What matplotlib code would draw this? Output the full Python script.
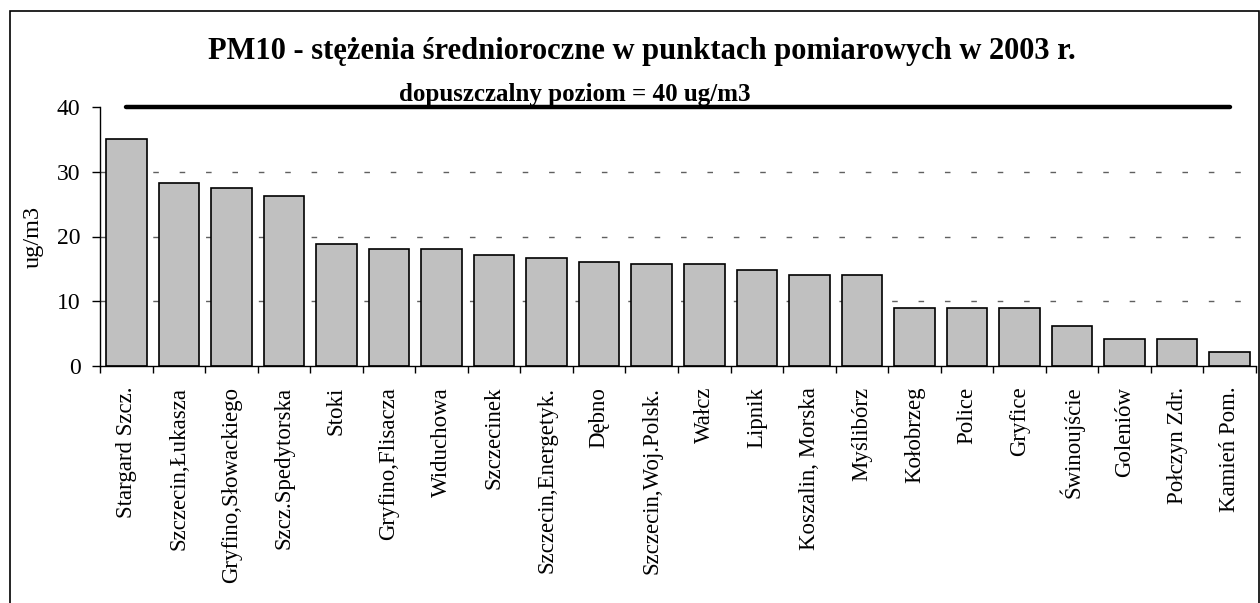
import numpy as np
import matplotlib
matplotlib.use("Agg")
import matplotlib.pyplot as plt
from matplotlib.patches import Rectangle

stations = ["Stargard Szcz.", "Szczecin,Łukasza", "Gryfino,Słowackiego", "Szcz.Spedytorska",
            "Stoki", "Gryfino,Flisacza", "Widuchowa", "Szczecinek", "Szczecin,Energetyk.",
            "Dębno", "Szczecin,Woj.Polsk.", "Wałcz", "Lipnik", "Koszalin, Morska",
            "Myślibórz", "Kołobrzeg", "Police", "Gryfice", "Świnoujście", "Goleniów",
            "Połczyn Zdr.", "Kamień Pom."]
pm10 = [35.0, 28.2, 27.5, 26.3, 18.9, 18.0, 18.0, 17.1, 16.7, 16.1, 15.8,
        15.8, 14.9, 14.0, 14.0, 9.0, 9.0, 9.0, 6.2, 4.1, 4.1, 2.2]
limit = 40
y_ticks = [0, 10, 20, 30, 40]

plt.rcParams['font.family'] = ['Liberation Serif', 'DejaVu Serif']

fig = plt.figure(figsize=(12.6, 6.03), dpi=100)
ax = fig.add_axes([100/1260, 1 - 366/603, 1156/1260, 259/603])

x = np.arange(len(stations))
ax.bar(x, pm10, width=0.77, color='#C0C0C0', edgecolor='black', linewidth=1.2, zorder=3)

# dopuszczalny poziom
ax.plot([x[0], x[-1]], [limit, limit], color='black', linewidth=3.2,
        solid_capstyle='round', clip_on=False, zorder=4)

ax.set_xlim(-0.5, len(stations) - 0.5)
ax.set_ylim(0, 40)
ax.set_yticks(y_ticks)
ax.tick_params(axis='y', labelsize=17, length=6, width=1, direction='out', pad=8)

ax.set_xticks(x)
ax.set_xticklabels(stations, rotation=90, fontsize=16.5)
ax.set_xticks(np.arange(len(stations) + 1) - 0.5, minor=True)
ax.tick_params(axis='x', which='major', length=0, pad=15)
ax.tick_params(axis='x', which='minor', length=5, width=1, direction='out')

for g in y_ticks[1:-1]:
    ax.axhline(g, color='#606060', linewidth=1, linestyle=(0, (4, 15)), zorder=1)

for s in ['top', 'right']:
    ax.spines[s].set_visible(False)
for s in ['left', 'bottom']:
    ax.spines[s].set_linewidth(1)
    ax.spines[s].set_zorder(5)

ax.set_ylabel("ug/m3", fontsize=17.5)
ax.yaxis.set_label_coords(-56/1156, 0.5)

fig.text(642/1260, 1 - 59/603, "PM10 - stężenia średnioroczne w punktach pomiarowych w 2003 r.",
         ha='center', va='baseline', fontsize=22, fontweight='bold')
ax.text(475/1156, 1 + 6/259, "dopuszczalny poziom = 40 ug/m3", transform=ax.transAxes,
        ha='center', va='baseline', fontsize=18, fontweight='bold')

fig.patches.append(Rectangle((10/1260, -0.05), 1249/1260, 1.05 - 11/603,
                             transform=fig.transFigure, fill=False,
                             edgecolor='black', linewidth=1.2))

fig.savefig("out.png", dpi=100)
